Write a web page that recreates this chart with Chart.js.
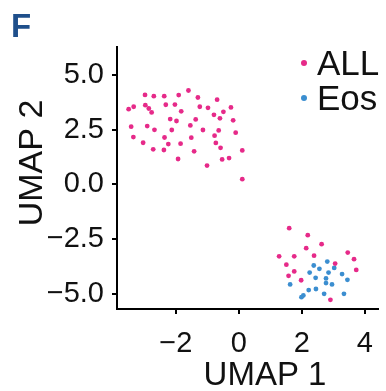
<!DOCTYPE html>
<html>
<head>
<meta charset="utf-8">
<script src="https://cdn.jsdelivr.net/npm/chart.js@4"></script>
<style>
  html, body { margin: 0; padding: 0; background: #fff; overflow: hidden; }
  #wrap { width: 386px; height: 391px; }
</style>
</head>
<body>
<div id="wrap"><canvas id="umapChart" width="386" height="391"></canvas></div>
<script>
// upper cluster + lower cluster, ALL cells
const allX = [
  -3.50, -3.34, -2.98, -2.70, -2.37, -1.91, -1.60, -1.30, -0.69, -2.97,
  -2.86, -2.77, -2.32, -2.03, -1.83, -1.24, -0.98, -0.79, -0.49, -0.25,
  -0.60, -0.18, -2.18, -1.98, -1.37, -1.54, -3.42, -2.91, -2.68, -2.13,
  -1.14, -0.64, -0.10, -3.35, -2.36, -1.51, -0.77, -3.04, -2.24, -1.85,
  -0.73, -0.58, -2.72, -2.38, -1.42, 0.11, -1.93, -0.53, -0.31, -1.01,
  0.11,
  1.60, 2.19, 2.63, 2.14, 1.28, 1.76, 2.39, 3.46, 3.66, 1.51,
  3.06, 3.73, 1.76, 1.58, 1.98, 2.91
];
const allY = [
  3.43, 3.54, 4.08, 4.02, 4.02, 4.07, 4.28, 3.96, 3.86, 3.61,
  3.46, 3.28, 3.63, 3.64, 3.33, 3.54, 3.49, 3.17, 3.31, 3.51,
  3.01, 2.92, 2.98, 2.89, 2.96, 2.69, 2.63, 2.66, 2.49, 2.48,
  2.48, 2.46, 2.36, 2.16, 2.14, 2.13, 2.22, 1.90, 1.84, 1.86,
  1.89, 1.67, 1.60, 1.57, 1.51, 1.55, 1.16, 1.14, 1.20, 0.86,
  0.24,
  -1.99, -2.31, -2.72, -2.90, -3.27, -3.27, -3.24, -3.10, -3.40, -3.65,
  -3.60, -3.89, -3.96, -4.16, -4.36, -5.25
];
const eosX = [
  2.81, 2.38, 2.56, 3.03, 2.25, 2.85, 3.28, 2.44, 2.77, 3.45,
  1.63, 2.77, 2.96, 2.22, 2.45, 3.34, 2.71, 2.05, 1.99
];
const eosY = [
  -3.51, -3.69, -3.84, -3.80, -4.01, -4.01, -4.08, -4.25, -4.28, -4.34,
  -4.55, -4.49, -4.55, -4.81, -4.76, -4.98, -4.98, -5.05, -5.13
];

const groupNames = ["ALL", "Eos"];
const xTickValues = [-2, 0, 2, 4];
const yTickValues = [-5, -2.5, 0, 2.5, 5];
const xTitle = "UMAP 1";
const yTitle = "UMAP 2";
const panelLetter = "F";

const pink = "#e62a89";
const blue = "#3b8ed0";
const textFont = '"Liberation Sans", Arial, sans-serif';

function toPoints(xs, ys) {
  return xs.map((x, i) => ({ x: x, y: ys[i] }));
}

function minusSign(v, digits) {
  return v.toFixed(digits).replace("-", "\u2212");
}

// letter, axis titles and the legend sit at fixed spots like the source figure
const overlayPlugin = {
  id: "overlay",
  afterDraw(chart) {
    const ctx = chart.ctx;
    ctx.save();
    ctx.fillStyle = "#1f4f8b";
    ctx.font = "bold 33px " + textFont;
    ctx.textAlign = "left";
    ctx.textBaseline = "alphabetic";
    ctx.fillText(panelLetter, 11, 37);

    ctx.fillStyle = "#111";
    ctx.font = "33px " + textFont;
    ctx.textAlign = "center";
    ctx.fillText(xTitle, 265, 385);

    ctx.save();
    ctx.font = "34px " + textFont;
    ctx.translate(42, 163);
    ctx.rotate(-Math.PI / 2);
    ctx.fillText(yTitle, 0, 0);
    ctx.restore();

    ctx.font = "35px " + textFont;
    ctx.textAlign = "left";
    chart.data.datasets.forEach((ds, i) => {
      const base = 75 + i * 35;
      ctx.beginPath();
      ctx.arc(304, base - 12, 3, 0, Math.PI * 2);
      ctx.fillStyle = ds.backgroundColor;
      ctx.fill();
      ctx.fillStyle = "#111";
      ctx.fillText(ds.label, 317, base);
    });
    ctx.restore();
  }
};

const axisGrid = {
  display: true,
  drawOnChartArea: false,
  drawTicks: true,
  tickLength: 5,
  color: "#000",
  lineWidth: 2
};

new Chart(document.getElementById("umapChart").getContext("2d"), {
  type: "scatter",
  data: {
    datasets: [
      {
        label: groupNames[0],
        data: toPoints(allX, allY),
        backgroundColor: pink,
        borderWidth: 0,
        pointRadius: 2.4
      },
      {
        label: groupNames[1],
        data: toPoints(eosX, eosY),
        backgroundColor: blue,
        borderWidth: 0,
        pointRadius: 2.4
      }
    ]
  },
  options: {
    responsive: false,
    animation: false,
    layout: { padding: { top: 47, right: 0, left: 0, bottom: 0 } },
    plugins: {
      legend: { display: false },
      tooltip: { enabled: false }
    },
    scales: {
      x: {
        type: "linear",
        min: -3.87,
        max: 4.41,
        grid: axisGrid,
        border: { display: true, color: "#000", width: 2 },
        afterBuildTicks: (scale) => {
          scale.ticks = xTickValues.map((v) => ({ value: v }));
        },
        afterFit: (scale) => { scale.height = 82; },
        ticks: {
          color: "#111",
          padding: 13,
          maxRotation: 0,
          font: { family: textFont, size: 29 },
          callback: (v) => minusSign(v, 0)
        }
      },
      y: {
        type: "linear",
        min: -5.67,
        max: 6.26,
        grid: axisGrid,
        border: { display: true, color: "#000", width: 2 },
        afterBuildTicks: (scale) => {
          scale.ticks = yTickValues.map((v) => ({ value: v }));
        },
        afterFit: (scale) => { scale.width = 117; },
        ticks: {
          color: "#111",
          padding: 8,
          font: { family: textFont, size: 29 },
          callback: (v) => minusSign(v, 1)
        }
      }
    }
  },
  plugins: [overlayPlugin]
});
</script>
</body>
</html>
